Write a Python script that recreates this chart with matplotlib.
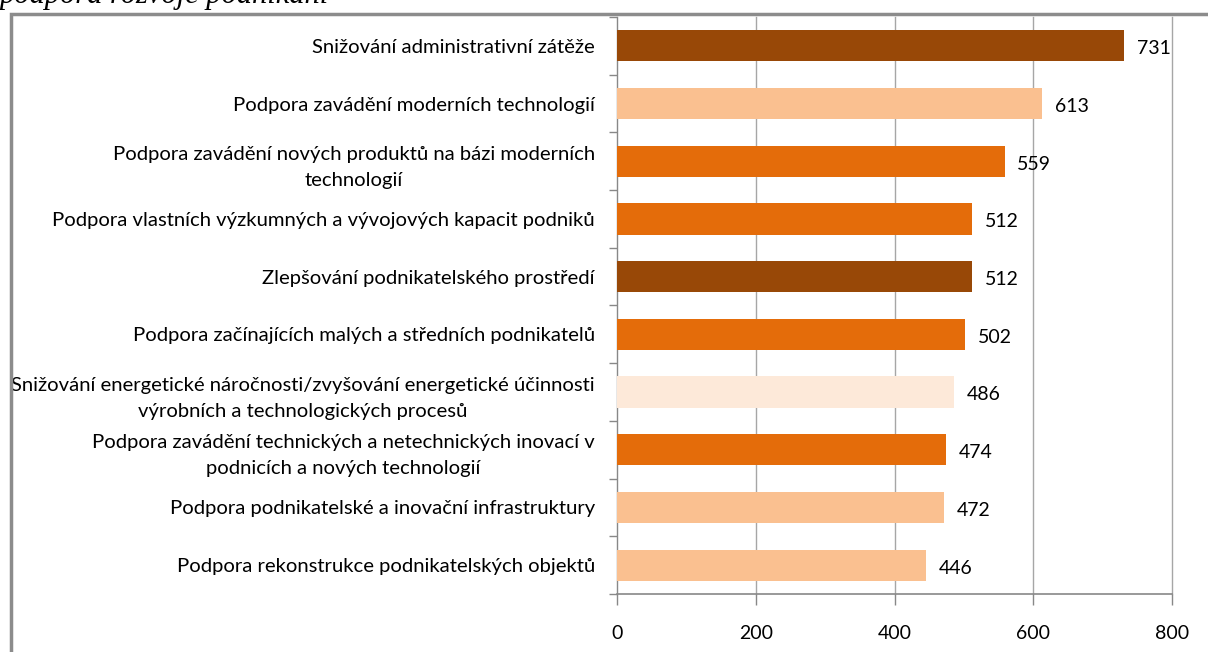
import matplotlib.pyplot as plt
from matplotlib.patches import Rectangle
from matplotlib.ticker import FixedLocator

# Priority areas of business support, top to bottom
labels = [
    "Snižování administrativní zátěže",
    "Podpora zavádění moderních technologií",
    "Podpora zavádění nových produktů na bázi moderních\ntechnologií",
    "Podpora vlastních výzkumných a vývojových kapacit podniků",
    "Zlepšování podnikatelského prostředí",
    "Podpora začínajících malých a středních podnikatelů",
    "Snižování energetické náročnosti/zvyšování energetické účinnosti\nvýrobních a technologických procesů",
    "Podpora zavádění technických a netechnických inovací v\npodnicích a nových technologií",
    "Podpora podnikatelské a inovační infrastruktury",
    "Podpora rekonstrukce podnikatelských objektů",
]
values = [731, 613, 559, 512, 512, 502, 486, 474, 472, 446]
colors = ["#984807", "#FAC090", "#E46C0A", "#E46C0A", "#984807",
          "#E46C0A", "#FDE9D9", "#E46C0A", "#FAC090", "#FAC090"]
xticks = [0, 200, 400, 600, 800]

plt.rcParams["font.family"] = ["Lato", "DejaVu Sans"]

fig = plt.figure(figsize=(12.08, 6.52), dpi=100)
ax = fig.add_axes([617 / 1208, 1 - 594 / 652, 555 / 1208, 577 / 652])

y = list(range(len(values)))
ax.barh(y, values, height=0.54, color=colors, zorder=3)
ax.set_ylim(len(values) - 0.5, -0.5)
ax.set_xlim(0, 800)

for yi, v in zip(y, values):
    ax.text(v + 18, yi + 0.05, str(v), va="center", ha="left", fontsize=14, color="black")

ax.set_yticks(y)
ax.set_yticklabels(labels, fontsize=14.6, ha="right", multialignment="center",
                   linespacing=1.65)
ax.tick_params(axis="y", which="major", length=0, pad=16)
ax.yaxis.set_minor_locator(FixedLocator([i + 0.5 for i in range(-1, len(values))]))
ax.tick_params(axis="y", which="minor", length=6, color="#888888", width=1)

ax.set_xticks(xticks)
ax.tick_params(axis="x", length=8, color="#888888", width=1, pad=14, labelsize=14)
ax.grid(axis="x", color="#A6A6A6", linewidth=1, zorder=0)
for gl in ax.get_xgridlines():
    gl.set_clip_on(False)

for s in ["top", "right"]:
    ax.spines[s].set_visible(False)
ax.spines["left"].set_color("#888888")
ax.spines["bottom"].set_color("#888888")
ax.spines["bottom"].set_linewidth(1.2)

# outer chart frame
fig.patches.append(Rectangle((11 / 1208, -0.1), 1.2, 1 - 14 / 652 + 0.1,
                             transform=fig.transFigure, fill=False,
                             edgecolor="#8C8C8C", linewidth=2.5))

# heading line cut off at the top edge
fig.text(0.0, 1 - 3 / 652, "podpora rozvoje podnikání", fontsize=22, style="italic",
         family="Liberation Serif", va="baseline", ha="left")

fig.savefig("out.png", dpi=100)
